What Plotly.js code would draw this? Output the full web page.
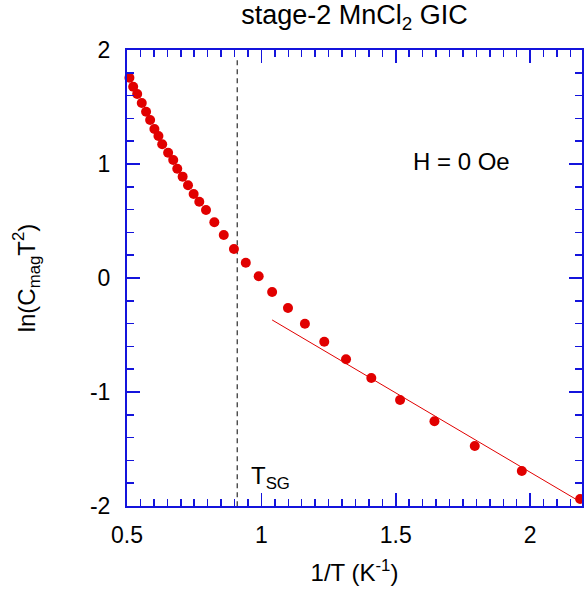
<!DOCTYPE html>
<html>
<head>
<meta charset="utf-8">
<script src="https://cdn.plot.ly/plotly-3.0.1.min.js"></script>
<style>html,body{margin:0;padding:0;background:#fff;}#chart{width:584px;height:593px;}</style>
</head>
<body>
<div id="chart"></div>
<script>
// Data
const invT = [0.509,0.523,0.538,0.555,0.571,0.586,0.602,0.617,0.631,0.653,0.672,0.687,0.707,0.727,0.748,0.769,0.794,0.825,0.860,0.898,0.942,0.990,1.040,1.099,1.162,1.234,1.315,1.409,1.516,1.644,1.794,1.969,2.186];
const lnCT2 = [1.757,1.678,1.614,1.535,1.459,1.386,1.307,1.246,1.173,1.099,1.035,0.959,0.889,0.813,0.737,0.669,0.596,0.489,0.377,0.254,0.134,0.015,-0.123,-0.263,-0.401,-0.559,-0.713,-0.877,-1.070,-1.257,-1.474,-1.693,-1.939];
const fitX = [1.04, 2.19];
const fitY = [-0.368, -1.968];
const tsgX = [0.91, 0.91];
const tsgY = [1.91, -2];
const xTickVals = [0.5, 1, 1.5, 2];
const xTickText = ['0.5', '1', '1.5', '2'];
const yTickVals = [-2, -1, 0, 1, 2];
const yTickText = ['-2', '-1', '0', '1', '2'];

const blue = 'rgb(20,20,220)';
const red = 'rgb(225,0,0)';
const font = 'Liberation Sans, Arial, sans-serif';

const traces = [
  {x: tsgX, y: tsgY, mode: 'lines', line: {color: 'black', width: 1, dash: '5px,4px'}, hoverinfo: 'skip'},
  {x: fitX, y: fitY, mode: 'lines', line: {color: red, width: 1}, hoverinfo: 'skip'},
  {x: invT, y: lnCT2, mode: 'markers', marker: {color: red, size: 10}, cliponaxis: false}
];

const axisCommon = {
  showgrid: false, zeroline: false,
  showline: true, linecolor: blue, linewidth: 2, mirror: 'allticks',
  ticks: 'inside', ticklen: 13, tickwidth: 1.5, tickcolor: blue,
  tickfont: {family: font, size: 23, color: 'black'},
  tickmode: 'array'
};

const layout = {
  width: 584, height: 593,
  margin: {l: 127, r: 2, t: 50, b: 87},
  paper_bgcolor: 'white', plot_bgcolor: 'white',
  showlegend: false,
  font: {family: font, color: 'black'},
  title: {text: 'stage-2 MnCl<sub>2</sub> GIC', font: {family: font, size: 27, color: 'black'},
          xref: 'paper', x: 0.5, xanchor: 'center', yref: 'container', y: 0.975, yanchor: 'middle'},
  xaxis: Object.assign({}, axisCommon, {
    range: [0.5, 2.193],
    tickvals: xTickVals, ticktext: xTickText,
    ticklabelstandoff: 7,
    minor: {tick0: 0, dtick: 0.05, ticks: 'inside', ticklen: 7, tickwidth: 1.5, tickcolor: blue},
    title: {text: '1/T (K<sup>-1</sup>)', font: {family: font, size: 24, color: 'black'}, standoff: 18}
  }),
  yaxis: Object.assign({}, axisCommon, {
    range: [-2, 2],
    tickvals: yTickVals, ticktext: yTickText,
    ticklabelstandoff: 10,
    minor: {tick0: 0, dtick: 0.2, ticks: 'inside', ticklen: 7, tickwidth: 1.5, tickcolor: blue},
    title: {text: 'ln(C<sub>mag</sub>T<sup>2</sup>)', font: {family: font, size: 24, color: 'black'}, standoff: 48}
  }),
  annotations: [
    {x: 1.745, y: 1.02, xref: 'x', yref: 'y', text: 'H = 0 Oe', showarrow: false,
     font: {family: font, size: 24, color: 'black'}, xanchor: 'center', yanchor: 'middle'},
    {x: 0.955, y: -1.75, xref: 'x', yref: 'y', text: 'T<sub>SG</sub>', showarrow: false,
     font: {family: font, size: 24, color: 'black'}, xanchor: 'left', yanchor: 'middle'}
  ]
};

Plotly.newPlot('chart', traces, layout, {staticPlot: true, displayModeBar: false});
</script>
</body>
</html>
